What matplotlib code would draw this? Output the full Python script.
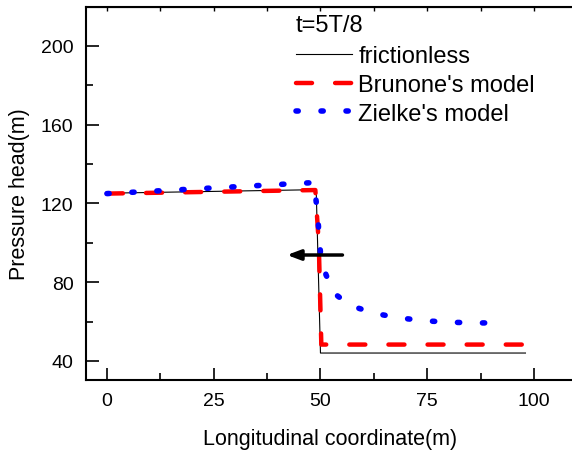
import matplotlib
matplotlib.use("Agg")
from matplotlib import pyplot
from matplotlib.ticker import MultipleLocator

pyplot.rcParams["font.family"] = ["Liberation Sans", "DejaVu Sans"]

# frictionless solution
x_fric = [0, 49, 50, 98]
h_fric = [125.2, 127.0, 44.0, 44.0]

# Brunone's unsteady friction model
x_brun = [0, 48.8, 49.6, 50.2, 98]
h_brun = [125.0, 126.8, 100.0, 48.3, 48.3]

# Zielke's model
x_ziel = [0, 48.5, 49.3, 50.0, 51.3, 53.4, 57.1, 63.0, 69.0, 75.0, 81.0, 87.0, 93.0]
h_ziel = [125.0, 130.6, 115.0, 95.0, 83.7, 74.0, 68.0, 64.0, 61.7, 60.3, 59.6, 59.3, 59.3]

x_ticks = [0, 25, 50, 75, 100]
y_ticks = [40, 80, 120, 160, 200]

figure = pyplot.figure(figsize=(5.72, 4.52), dpi=100)
ax = figure.add_axes([86 / 572, 71 / 452, 489 / 572, 373 / 452])

ax.plot(x_fric, h_fric, color="black", linewidth=0.8, label="frictionless")
ax.plot(x_brun, h_brun, color="red", linewidth=3.2, linestyle=(0, (3.6, 5.2)),
        dash_capstyle="round", label="Brunone's model")
ax.plot(x_ziel, h_ziel, color="blue", linewidth=4, linestyle=(0, (0.4, 4.1)),
        dash_capstyle="round", label="Zielke's model")

ax.annotate("", xy=(41.5, 93.8), xytext=(55.8, 93.8),
            arrowprops=dict(arrowstyle="-|>,head_length=0.8,head_width=0.3",
                            color="black", linewidth=2.5))

ax.set_xlim(-4.9, 109.6)
ax.set_ylim(30.3, 219.8)
ax.set_xticks(x_ticks)
ax.set_yticks(y_ticks)
ax.xaxis.set_minor_locator(MultipleLocator(12.5))
ax.yaxis.set_minor_locator(MultipleLocator(20))
ax.tick_params(which="major", direction="in", length=9, width=1.2, labelsize=14, pad=9)
ax.tick_params(which="minor", direction="in", length=5, width=1.2)
for spine in ax.spines.values():
    spine.set_linewidth(1.5)

top = ax.secondary_xaxis("top")
top.set_xticks(x_ticks)
top.xaxis.set_minor_locator(MultipleLocator(12.5))
top.tick_params(which="both", direction="in", length=3, width=1.0, labeltop=False)

ax.set_xlabel("Longitudinal coordinate(m)", fontsize=15.5, labelpad=13)
ax.set_ylabel("Pressure head(m)", fontsize=15.5, labelpad=8)

ax.legend(title="t=5T/8", loc="upper left", bbox_to_anchor=(0.40, 1.02),
          frameon=False, fontsize=17, title_fontsize=17, handlelength=2.4,
          handletextpad=0.25, labelspacing=0.28, borderaxespad=0.2)
leg = ax.get_legend()
leg._legend_box.align = "left"
leg._legend_box.sep = 7

pyplot.savefig("out.png", dpi=100)
